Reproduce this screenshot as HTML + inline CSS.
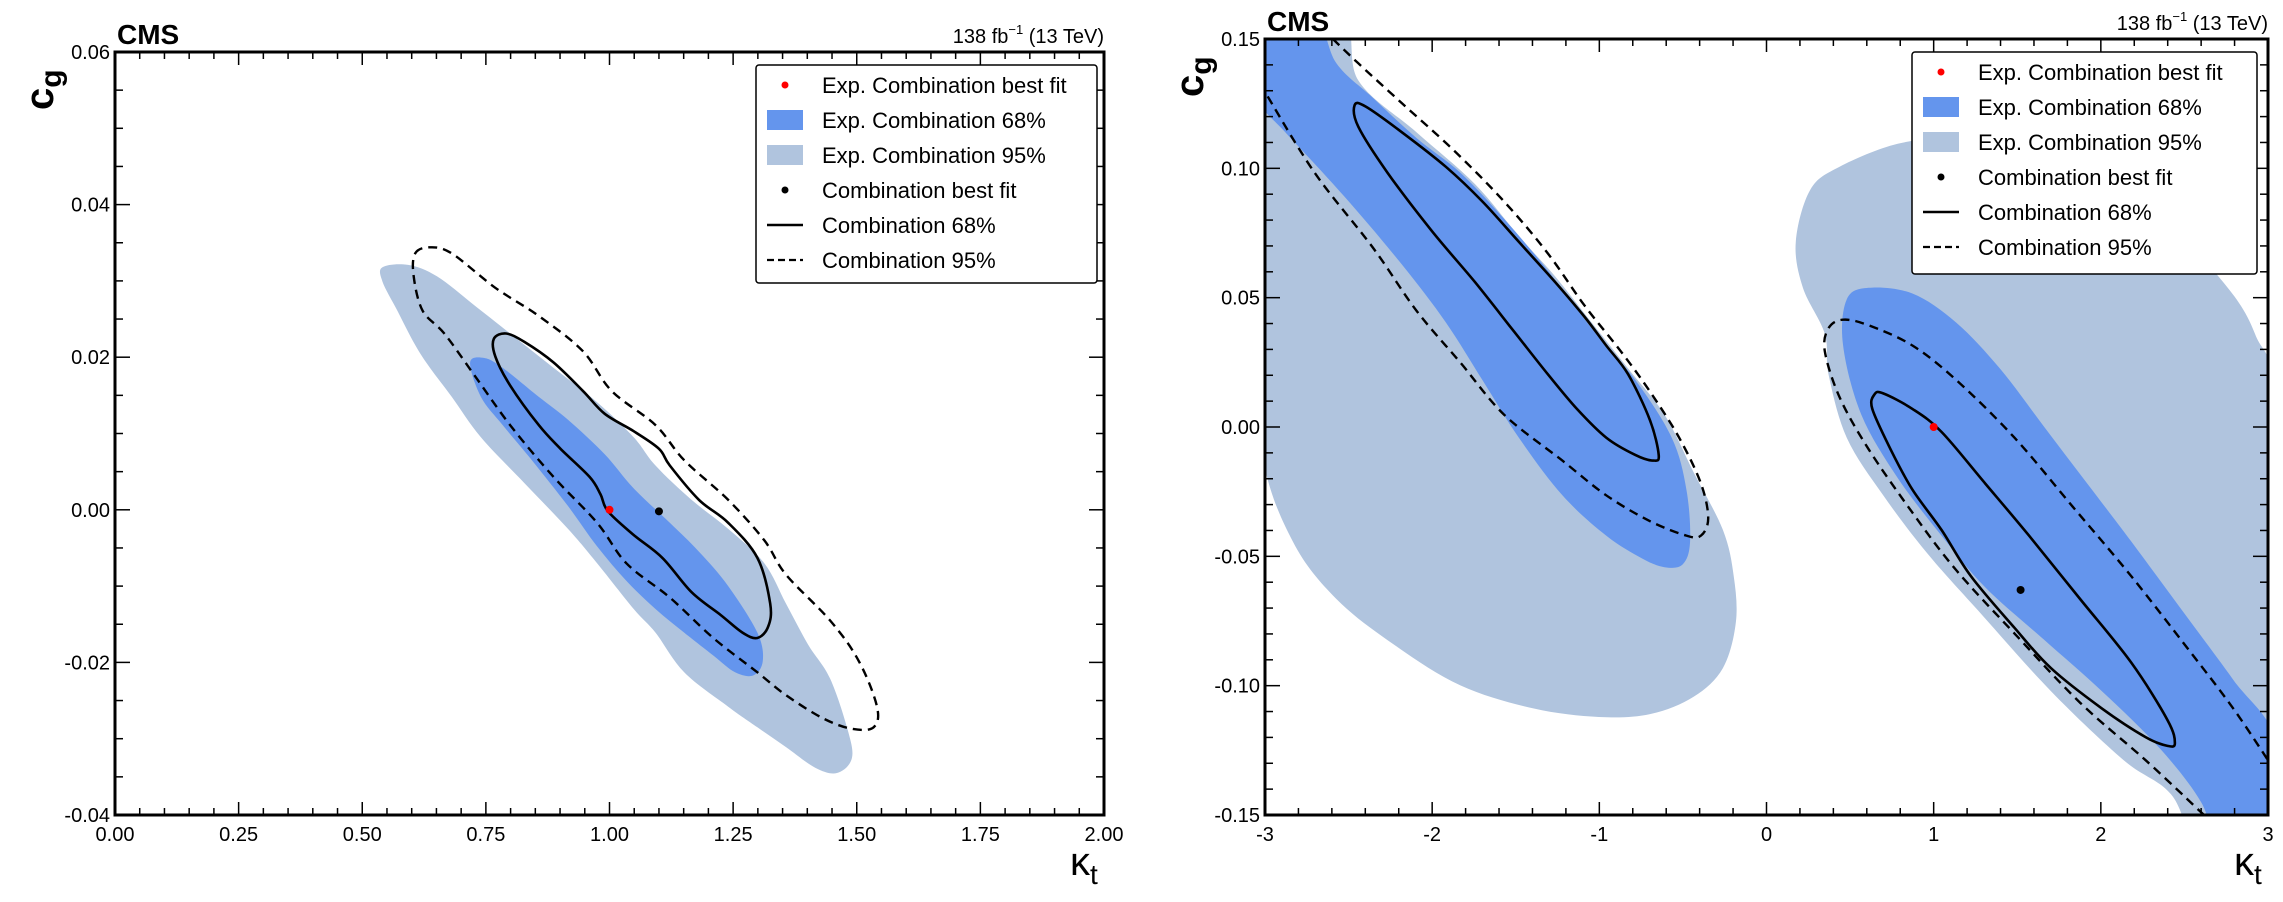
<!DOCTYPE html>
<html><head><meta charset="utf-8"><style>
html,body{margin:0;padding:0;background:#fff;width:2283px;height:902px;overflow:hidden;}
svg{display:block;}
svg text{font-family:"Liberation Sans",Arial,sans-serif;}
</style></head><body>
<svg id="fig" width="2283" height="902" viewBox="0 0 2283 902" xmlns="http://www.w3.org/2000/svg"></svg>
<script>
// ---------- Left panel data (kappa_t, c_g) ----------
const leftExp95 = [[0.541,0.0318],[0.593,0.0321],[0.651,0.0306],[0.725,0.0269],[0.799,0.0231],[0.887,0.0186],[0.975,0.0141],[1.049,0.0095],[1.093,0.0058],[1.166,0.0013],[1.240,-0.0025],[1.313,-0.0070],[1.357,-0.0123],[1.401,-0.0176],[1.446,-0.0221],[1.482,-0.0289],[1.490,-0.0326],[1.460,-0.0345],[1.416,-0.0338],[1.357,-0.0311],[1.299,-0.0285],[1.240,-0.0258],[1.151,-0.0213],[1.093,-0.0161],[1.049,-0.0130],[0.975,-0.0070],[0.916,-0.0025],[0.828,0.0035],[0.740,0.0095],[0.681,0.0148],[0.637,0.0186],[0.607,0.0216],[0.571,0.0261],[0.541,0.0299]];
const leftExp68 = [[0.718,0.0193],[0.747,0.0199],[0.784,0.0186],[0.857,0.0148],[0.916,0.0118],[0.990,0.0073],[1.049,0.0028],[1.122,-0.0017],[1.181,-0.0055],[1.240,-0.0100],[1.299,-0.0161],[1.310,-0.0198],[1.291,-0.0217],[1.254,-0.0213],[1.210,-0.0191],[1.151,-0.0161],[1.093,-0.0130],[1.034,-0.0093],[0.975,-0.0048],[0.916,0.0005],[0.843,0.0065],[0.784,0.0111],[0.740,0.0148]];
const leftObs68 = [[0.766,0.0224],[0.791,0.0231],[0.828,0.0220],[0.887,0.0193],[0.946,0.0156],[0.990,0.0126],[1.049,0.0103],[1.100,0.0080],[1.122,0.0058],[1.181,0.0013],[1.240,-0.0017],[1.299,-0.0063],[1.325,-0.0123],[1.321,-0.0153],[1.299,-0.0168],[1.269,-0.0161],[1.225,-0.0138],[1.166,-0.0108],[1.107,-0.0063],[1.049,-0.0033],[0.997,-0.0002],[0.982,0.0020],[0.960,0.0043],[0.901,0.0080],[0.857,0.0111],[0.799,0.0163],[0.769,0.0201]];
const leftObs95 = [[0.607,0.0336],[0.637,0.0344],[0.681,0.0336],[0.769,0.0291],[0.857,0.0254],[0.946,0.0208],[1.004,0.0156],[1.093,0.0111],[1.151,0.0065],[1.240,0.0013],[1.313,-0.0040],[1.357,-0.0085],[1.446,-0.0145],[1.504,-0.0198],[1.541,-0.0258],[1.534,-0.0285],[1.490,-0.0287],[1.431,-0.0273],[1.357,-0.0243],[1.299,-0.0213],[1.210,-0.0168],[1.122,-0.0115],[1.034,-0.0070],[0.975,-0.0017],[0.887,0.0043],[0.799,0.0111],[0.725,0.0178],[0.666,0.0231],[0.622,0.0261],[0.604,0.0306]];
const leftExpBest = [1.0, 0.0];
const leftObsBest = [1.1, -0.0002];
const leftXTicks = ["0.00","0.25","0.50","0.75","1.00","1.25","1.50","1.75","2.00"];
const leftYTicks = ["-0.04","-0.02","0.00","0.02","0.04","0.06"];

// ---------- Right panel data ----------
const rightExp95A = [[-3.1,0.16],[-2.55,0.16],[-2.442,0.134],[-2.093,0.1139],[-1.744,0.0939],[-1.482,0.0738],[-1.264,0.0582],[-1.046,0.0404],[-0.828,0.0226],[-0.610,0.0048],[-0.436,-0.0175],[-0.261,-0.0398],[-0.196,-0.0576],[-0.183,-0.0754],[-0.261,-0.0932],[-0.436,-0.1043],[-0.697,-0.1110],[-1.003,-0.1121],[-1.395,-0.1088],[-1.831,-0.0999],[-2.224,-0.0843],[-2.573,-0.0665],[-2.834,-0.0442],[-3.02,-0.010],[-3.1,0.05]];
const rightExp68A = [[-3.1,0.16],[-2.72,0.16],[-2.573,0.1406],[-2.355,0.1273],[-2.093,0.1117],[-1.831,0.0983],[-1.570,0.0805],[-1.308,0.0605],[-1.046,0.0382],[-0.785,0.0182],[-0.567,-0.0041],[-0.479,-0.0242],[-0.457,-0.0442],[-0.501,-0.0531],[-0.610,-0.0542],[-0.741,-0.0509],[-0.959,-0.0420],[-1.221,-0.0264],[-1.482,-0.0041],[-1.700,0.0182],[-1.918,0.0404],[-2.180,0.0627],[-2.529,0.0894],[-2.878,0.1139],[-3.03,0.125],[-3.1,0.14]];
const rightObs68A = [[-2.464,0.1244],[-2.398,0.1239],[-2.180,0.1139],[-1.918,0.1006],[-1.700,0.0872],[-1.482,0.0716],[-1.264,0.0560],[-1.090,0.0427],[-0.959,0.0315],[-0.828,0.0204],[-0.697,0.0026],[-0.645,-0.0108],[-0.676,-0.0130],[-0.785,-0.0108],[-0.959,-0.0041],[-1.134,0.0070],[-1.308,0.0204],[-1.526,0.0382],[-1.744,0.0560],[-2.006,0.0761],[-2.267,0.0983],[-2.442,0.1161]];
const rightObs95A = [[-2.594,0.15],[-2.442,0.1406],[-2.180,0.1251],[-1.875,0.1072],[-1.570,0.0872],[-1.308,0.0671],[-1.090,0.0471],[-0.872,0.0293],[-0.697,0.0137],[-0.523,-0.0041],[-0.392,-0.0219],[-0.349,-0.0353],[-0.392,-0.0420],[-0.479,-0.0420],[-0.697,-0.0364],[-0.959,-0.0264],[-1.221,-0.0130],[-1.570,0.0048],[-1.831,0.0249],[-2.093,0.0449],[-2.355,0.0694],[-2.703,0.0983],[-3,0.1295]];
const rightExp95B = [[0.175,0.0716],[0.262,0.0917],[0.437,0.1006],[0.785,0.1095],[1.134,0.1117],[1.483,0.1095],[1.919,0.0983],[2.355,0.0805],[2.704,0.0582],[2.922,0.0360],[3.05,0.0],[3.05,-0.165],[2.62,-0.165],[2.42,-0.142],[2.137,-0.1288],[1.701,-0.1021],[1.265,-0.0709],[0.960,-0.0487],[0.698,-0.0264],[0.480,-0.0041],[0.371,0.0204],[0.349,0.0360],[0.218,0.0538]];
const rightExp68B = [[0.480,0.0493],[0.611,0.0538],[0.873,0.0516],[1.134,0.0404],[1.396,0.0226],[1.658,0.0003],[1.919,-0.0219],[2.181,-0.0442],[2.486,-0.0709],[2.792,-0.0977],[3.05,-0.122],[3.05,-0.165],[2.73,-0.165],[2.6,-0.145],[2.355,-0.1244],[2.006,-0.1021],[1.658,-0.0821],[1.309,-0.0620],[1.047,-0.0420],[0.785,-0.0197],[0.567,0.0048],[0.458,0.0315]];
const rightObs68B = [[0.646,0.0126],[0.698,0.0130],[0.873,0.0070],[1.047,-0.0019],[1.309,-0.0219],[1.570,-0.0420],[1.876,-0.0665],[2.181,-0.0910],[2.399,-0.1133],[2.443,-0.1222],[2.399,-0.1233],[2.268,-0.1199],[2.006,-0.1088],[1.701,-0.0932],[1.483,-0.0776],[1.222,-0.0576],[1.047,-0.0398],[0.873,-0.0242],[0.742,-0.0086],[0.633,0.0070]];
const rightObs95B = [[2.617,-0.15],[2.268,-0.1288],[1.876,-0.1066],[1.483,-0.0798],[1.134,-0.0553],[0.873,-0.0331],[0.611,-0.0086],[0.437,0.0115],[0.349,0.0293],[0.371,0.0382],[0.458,0.0415],[0.611,0.0393],[0.873,0.0315],[1.134,0.0182],[1.483,-0.0041],[1.832,-0.0308],[2.181,-0.0576],[2.530,-0.0865],[2.792,-0.1088],[3,-0.1288]];
const rightExpBest = [1.0, 0.0];
const rightObsBest = [1.52, -0.063];
const rightXTicks = ["-3","-2","-1","0","1","2","3"];
const rightYTicks = ["-0.15","-0.10","-0.05","0.00","0.05","0.10","0.15"];

const legendLabels = ["Exp. Combination best fit","Exp. Combination 68%","Exp. Combination 95%","Combination best fit","Combination 68%","Combination 95%"];

const NS = "http://www.w3.org/2000/svg";
const svg = document.getElementById('fig');
const C68 = "#6495ED", C95 = "#B0C4DE";
function mk(tag, attrs, parent) {
  const e = document.createElementNS(NS, tag);
  for (const k in attrs) e.setAttribute(k, attrs[k]);
  (parent || svg).appendChild(e);
  return e;
}
function smooth(pts, closed) {
  const n = pts.length;
  let d = "M" + pts[0][0].toFixed(1) + "," + pts[0][1].toFixed(1);
  const get = i => closed ? pts[(i + n) % n] : pts[Math.max(0, Math.min(n - 1, i))];
  const last = closed ? n : n - 1;
  for (let i = 0; i < last; i++) {
    const p0 = get(i - 1), p1 = get(i), p2 = get(i + 1), p3 = get(i + 2);
    const c1 = [p1[0] + (p2[0] - p0[0]) / 6, p1[1] + (p2[1] - p0[1]) / 6];
    const c2 = [p2[0] - (p3[0] - p1[0]) / 6, p2[1] - (p3[1] - p1[1]) / 6];
    d += "C" + c1[0].toFixed(1) + "," + c1[1].toFixed(1) + " " + c2[0].toFixed(1) + "," + c2[1].toFixed(1) + " " + p2[0].toFixed(1) + "," + p2[1].toFixed(1);
  }
  return d + (closed ? "Z" : "");
}

function panel(cfg) {
  const g = mk('g', {});
  
  
  const sx = v => cfg.x0 + (v - cfg.xmin) / (cfg.xmax - cfg.xmin) * (cfg.x1 - cfg.x0);
  const sy = v => cfg.y1 - (v - cfg.ymin) / (cfg.ymax - cfg.ymin) * (cfg.y1 - cfg.y0);
  const clipId = cfg.name + "-clip";
  const cp = mk('clipPath', {id: clipId}, g);
  mk('rect', {x: cfg.x0, y: cfg.y0, width: cfg.x1 - cfg.x0, height: cfg.y1 - cfg.y0}, cp);
  const plot = mk('g', {'clip-path': 'url(#' + clipId + ')'}, g);
  
  
  const proj = arr => arr.map(p => [sx(p[0]), sy(p[1])]);
  cfg.fills95.forEach(a => {
    const e = mk('path', {d: smooth(proj(a), true), fill: C95}, plot);
    
    
  });
  cfg.fills68.forEach(a => {
    const e = mk('path', {d: smooth(proj(a), true), fill: C68}, plot);
    
    
  });
  cfg.lines68.forEach(a => {
    const e = mk('path', {d: smooth(proj(a[0]), a[1]), fill: 'none', stroke: '#000', 'stroke-width': 2.6}, plot);
    
    
  });
  cfg.lines95.forEach(a => {
    const e = mk('path', {d: smooth(proj(a[0]), a[1]), fill: 'none', stroke: '#000', 'stroke-width': 2.4, 'stroke-dasharray': '9,6'}, plot);
    
    
  });
  const eb = mk('circle', {cx: sx(cfg.expBest[0]), cy: sy(cfg.expBest[1]), r: 4, fill: '#ff0000'}, plot);
  
  
  const ob = mk('circle', {cx: sx(cfg.obsBest[0]), cy: sy(cfg.obsBest[1]), r: 4, fill: '#000'}, plot);
  
  

  const fr = mk('rect', {x: cfg.x0, y: cfg.y0, width: cfg.x1 - cfg.x0, height: cfg.y1 - cfg.y0, fill: 'none', stroke: '#000', 'stroke-width': 3}, g);
  
  
  const tg = mk('g', {stroke: '#000', 'stroke-width': 1.5}, g);
  
  
  const nxm = Math.round((cfg.xmax - cfg.xmin) / cfg.xminor);
  for (let i = 0; i <= nxm; i++) {
    const v = cfg.xmin + i * cfg.xminor, x = sx(v);
    const major = Math.abs((v - cfg.xmin) / cfg.xmajor - Math.round((v - cfg.xmin) / cfg.xmajor)) < 1e-6;
    const L = major ? 13 : 7;
    mk('line', {x1: x, y1: cfg.y1, x2: x, y2: cfg.y1 - L}, tg);
    mk('line', {x1: x, y1: cfg.y0, x2: x, y2: cfg.y0 + L}, tg);
  }
  const nym = Math.round((cfg.ymax - cfg.ymin) / cfg.yminor);
  for (let i = 0; i <= nym; i++) {
    const v = cfg.ymin + i * cfg.yminor, y = sy(v);
    const major = Math.abs((v - cfg.ymin) / cfg.ymajor - Math.round((v - cfg.ymin) / cfg.ymajor)) < 1e-6;
    const L = major ? 15 : 8;
    mk('line', {x1: cfg.x0, y1: y, x2: cfg.x0 + L, y2: y}, tg);
    mk('line', {x1: cfg.x1, y1: y, x2: cfg.x1 - L, y2: y}, tg);
  }
  cfg.xTicks.forEach(t => {
    const e = mk('text', {x: sx(parseFloat(t)), y: cfg.y1 + 26, 'font-size': 20, 'text-anchor': 'middle'}, g);
    e.textContent = t;
    
    
  });
  cfg.yTicks.forEach(t => {
    const e = mk('text', {x: cfg.x0 - 5, y: sy(parseFloat(t)) + 7, 'font-size': 20, 'text-anchor': 'end'}, g);
    e.textContent = t;
    
    
  });
  const xt = mk('text', {x: cfg.x1 - 34, y: cfg.y1 + 60, 'font-size': 40}, g);
  
  
  xt.innerHTML = 'κ<tspan font-size="28" dy="9">t</tspan>';
  const yt = mk('text', {transform: 'translate(' + (cfg.x0 - 62) + ',' + (cfg.y0 + 58) + ') rotate(-90)', 'font-size': 40, 'font-weight': 'bold'}, g);
  
  
  yt.innerHTML = 'c<tspan font-size="30" dy="8">g</tspan>';
  const cms = mk('text', {x: cfg.x0 + 2, y: cfg.y0 - 8, 'font-size': 28, 'font-weight': 'bold'}, g);
  cms.textContent = 'CMS';
  
  
  const lumi = mk('text', {x: cfg.x1, y: cfg.y0 - 9, 'font-size': 20, 'text-anchor': 'end'}, g);
  lumi.innerHTML = '138 fb<tspan font-size="13" dy="-9">−1</tspan><tspan dy="9"> (13 TeV)</tspan>';
  
  
  const lg = mk('g', {}, g);
  
  
  const L = cfg.legend;
  mk('rect', {x: L.x, y: L.y, width: L.w, height: L.h, rx: 3, fill: '#fff', stroke: '#000', 'stroke-width': 1.5}, lg);
  legendLabels.forEach((lab, i) => {
    const cy = L.y + 20 + i * 35;
    const eg = mk('g', {}, lg);
    
    
    const mx = L.x + 29;
    if (i === 0) mk('circle', {cx: mx, cy: cy, r: 3.5, fill: '#ff0000'}, eg);
    if (i === 1) mk('rect', {x: mx - 18, y: cy - 10, width: 36, height: 20, fill: C68}, eg);
    if (i === 2) mk('rect', {x: mx - 18, y: cy - 10, width: 36, height: 20, fill: C95}, eg);
    if (i === 3) mk('circle', {cx: mx, cy: cy, r: 3.5, fill: '#000'}, eg);
    if (i === 4) mk('line', {x1: mx - 18, y1: cy, x2: mx + 18, y2: cy, stroke: '#000', 'stroke-width': 2.4}, eg);
    if (i === 5) mk('line', {x1: mx - 18, y1: cy, x2: mx + 18, y2: cy, stroke: '#000', 'stroke-width': 2.2, 'stroke-dasharray': '7,4'}, eg);
    const t = mk('text', {x: L.x + 66, y: cy + 8, 'font-size': 22}, eg);
    t.textContent = lab;
  });
}

panel({name: 'left-panel', x0: 115, x1: 1104, y0: 52, y1: 815, xmin: 0, xmax: 2, ymin: -0.04, ymax: 0.06,
  xmajor: 0.25, xminor: 0.05, ymajor: 0.02, yminor: 0.005,
  fills95: [leftExp95], fills68: [leftExp68], lines68: [[leftObs68, true]], lines95: [[leftObs95, true]],
  expBest: leftExpBest, obsBest: leftObsBest, xTicks: leftXTicks, yTicks: leftYTicks,
  legend: {x: 756, y: 65, w: 341, h: 218}});
panel({name: 'right-panel', x0: 1265, x1: 2268, y0: 39, y1: 815, xmin: -3, xmax: 3, ymin: -0.15, ymax: 0.15,
  xmajor: 1, xminor: 0.2, ymajor: 0.05, yminor: 0.01,
  fills95: [rightExp95A, rightExp95B], fills68: [rightExp68A, rightExp68B],
  lines68: [[rightObs68A, true], [rightObs68B, true]], lines95: [[rightObs95A, false], [rightObs95B, false]],
  expBest: rightExpBest, obsBest: rightObsBest, xTicks: rightXTicks, yTicks: rightYTicks,
  legend: {x: 1912, y: 52, w: 345, h: 222}});
</script>
</body></html>
